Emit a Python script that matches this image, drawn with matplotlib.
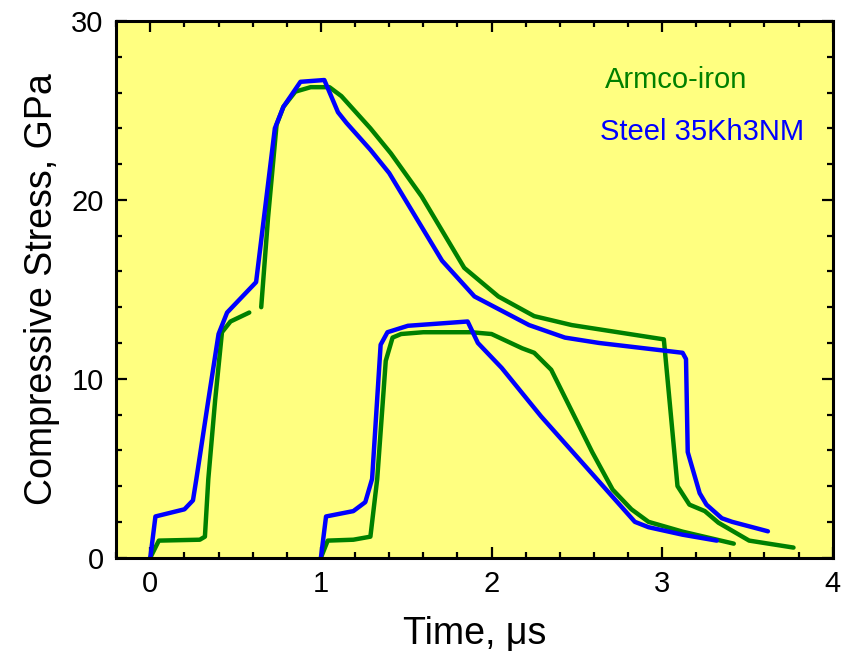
import matplotlib
matplotlib.use('Agg')
import matplotlib.pyplot as plt
from matplotlib.ticker import MultipleLocator

plt.rcParams['font.family'] = ['Liberation Sans', 'DejaVu Sans']

# Armco-iron (green)
iron_t1 = [0, 0.05, 0.29, 0.32, 0.34, 0.38, 0.42, 0.47, 0.58]
iron_s1 = [0, 0.95, 1.0, 1.17, 4.4, 8.8, 12.6, 13.2, 13.7]
iron_t2 = [0.65, 0.69, 0.74, 0.78, 0.85, 0.94, 1.05, 1.12, 1.29, 1.41, 1.59, 1.84,
           2.04, 2.25, 2.47, 3.01, 3.09, 3.16, 3.25, 3.33, 3.51, 3.77]
iron_s2 = [14.0, 19.0, 24.2, 25.2, 26.05, 26.3, 26.3, 25.8, 24.0, 22.6, 20.2, 16.2,
           14.6, 13.5, 13.0, 12.2, 4.0, 2.96, 2.6, 1.95, 0.95, 0.56]
iron_t3 = [1.0, 1.04, 1.19, 1.29, 1.33, 1.38, 1.42, 1.47, 1.6, 1.88, 2.0, 2.18,
           2.25, 2.35, 2.59, 2.71, 2.82, 2.92, 3.12, 3.42]
iron_s3 = [0, 0.95, 1.0, 1.17, 4.4, 11.0, 12.3, 12.5, 12.6, 12.6, 12.5, 11.7,
           11.45, 10.5, 5.9, 3.8, 2.7, 2.0, 1.45, 0.78]

# Steel 35Kh3NM (blue)
steel_t1 = [0, 0.03, 0.2, 0.25, 0.27, 0.34, 0.4, 0.45, 0.62, 0.73, 0.78, 0.88, 1.02,
            1.1, 1.15, 1.29, 1.4, 1.71, 1.9, 2.22, 2.43, 2.63, 3.12, 3.14, 3.15,
            3.22, 3.26, 3.35, 3.41, 3.62]
steel_s1 = [0, 2.3, 2.7, 3.2, 4.4, 8.8, 12.5, 13.7, 15.4, 24.0, 25.2, 26.6, 26.7,
            24.9, 24.3, 22.8, 21.5, 16.6, 14.6, 13.0, 12.3, 12.0, 11.45, 11.1, 5.9,
            3.6, 2.96, 2.2, 2.0, 1.47]
steel_t2 = [1.0, 1.03, 1.19, 1.26, 1.3, 1.35, 1.39, 1.51, 1.86, 1.92, 2.06, 2.29,
            2.84, 2.92, 3.12, 3.32]
steel_s2 = [0, 2.3, 2.6, 3.1, 4.4, 11.9, 12.6, 12.96, 13.2, 12.0, 10.6, 7.9,
            2.0, 1.7, 1.28, 0.95]

green = '#008000'
blue = '#0000ff'

fig = plt.figure(figsize=(8.42, 6.56), dpi=100)
ax = fig.add_axes([0.138, 0.150, 0.851, 0.818])
ax.set_facecolor('#ffff80')

style = dict(lw=3.2, solid_capstyle='round', solid_joinstyle='round')
ax.plot(iron_t1, iron_s1, color=green, **style)
ax.plot(iron_t2, iron_s2, color=green, **style)
ax.plot(iron_t3, iron_s3, color=green, **style)
ax.plot(steel_t1, steel_s1, color=blue, **style)
ax.plot(steel_t2, steel_s2, color=blue, **style)

ax.text(0.682, 0.89, 'Armco-iron', color=green, fontsize=21, transform=ax.transAxes, va='center')
ax.text(0.675, 0.793, 'Steel 35Kh3NM', color=blue, fontsize=21, transform=ax.transAxes, va='center')

ax.set_xlim(-0.2, 4)
ax.set_ylim(0, 30)
ax.xaxis.set_major_locator(MultipleLocator(1))
ax.xaxis.set_minor_locator(MultipleLocator(0.2))
ax.yaxis.set_major_locator(MultipleLocator(10))
ax.yaxis.set_minor_locator(MultipleLocator(2))
ax.tick_params(which='both', direction='in', top=True, right=True, width=1.6, labelsize=21)
ax.tick_params(which='major', length=8, pad=9)
ax.tick_params(which='minor', length=4.5)
for s in ax.spines.values():
    s.set_linewidth(2.2)

ax.set_xlabel('Time, \u03bcs', fontsize=27, labelpad=13)
ax.set_ylabel('Compressive Stress, GPa', fontsize=27, labelpad=8)

fig.savefig('out.png', dpi=100)
